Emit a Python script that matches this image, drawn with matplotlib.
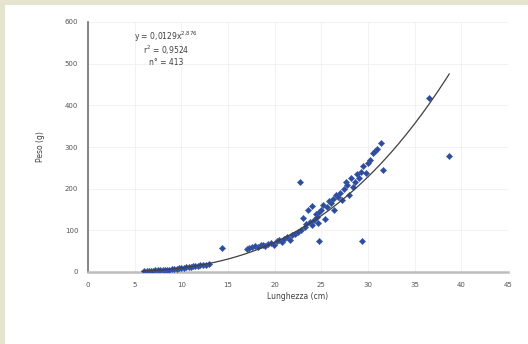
import numpy as np
from matplotlib import pyplot as plt
from matplotlib.patches import Rectangle

# lunghezza (cm) e peso (g)
len_small = [6.0, 6.3, 6.5, 6.8, 7.0, 7.2, 7.5, 7.7, 8.0, 8.2, 8.5, 8.7, 9.0, 9.2,
             9.5, 9.8, 10.0, 10.3, 10.5, 10.8, 11.0, 11.3, 11.5, 11.8, 12.0, 12.3, 12.6, 13.0]
peso_small = [2, 2, 3, 3, 3, 4, 4, 4, 5, 5, 6, 6, 7, 7,
              8, 9, 9, 10, 11, 12, 13, 14, 15, 15, 16, 17, 17, 19]

len_mid = [17.0, 17.3, 17.6, 17.9, 18.2, 18.5, 18.8, 19.0, 19.3, 19.6, 19.9, 20.2,
           20.5, 20.8, 21.0, 21.3, 21.6, 21.9, 22.2, 22.5]
peso_mid = [55, 57, 60, 62, 60, 64, 66, 63, 68, 70, 66, 74,
            77, 72, 80, 84, 78, 88, 92, 95]

len_big = [22.8, 23.0, 23.2, 23.4, 23.6, 23.8, 24.0, 24.0, 24.2, 24.4, 24.5, 24.6,
           24.8, 25.0, 25.2, 25.4, 25.6, 25.8, 26.0, 26.2, 26.4, 26.6, 26.8, 27.0,
           27.2, 27.4, 27.6, 27.8, 28.0, 28.2, 28.4, 28.6, 28.8, 29.0, 29.2, 29.5,
           29.8, 30.0, 30.2, 30.5, 30.8, 31.0, 31.4, 31.6]
peso_big = [100, 130, 108, 115, 150, 120, 112, 158, 125, 140, 132, 118,
            145, 150, 160, 128, 155, 170, 165, 175, 150, 185, 180, 190,
            172, 200, 215, 210, 185, 225, 205, 215, 235, 225, 240, 255,
            238, 262, 270, 285, 290, 295, 310, 245]

len_out = [14.4, 22.7, 24.7, 29.4, 36.5, 38.7]
peso_out = [58, 216, 75, 75, 418, 279]

# curva di potenza
coef_a = 0.0129
coef_b = 2.876
x_fit_min, x_fit_max = 5.8, 38.7

eq_lines = ['y = 0,0129x$^{2{,}876}$', 'r$^2$ = 0,9524', 'n° = 413']

plt.rcParams['font.family'] = ['DejaVu Sans']

fig = plt.figure(figsize=(5.28, 3.44), dpi=100)
fig.patch.set_facecolor('#e4e4cf')
fig.patches.append(Rectangle((5 / 528, 0), 1, 1 - 5 / 344, transform=fig.transFigure,
                             facecolor='white', edgecolor='none', zorder=-1))

ax = fig.add_axes([88 / 528, 72 / 344, 420 / 528, 250 / 344])
ax.set_facecolor('white')

xs = np.concatenate([len_small, len_mid, len_big, len_out])
ys = np.concatenate([peso_small, peso_mid, peso_big, peso_out])
ax.scatter(xs, ys, s=10, marker='D', color='#2f4c9a', edgecolors='#3b5db0',
           linewidths=0.4, zorder=3)

xf = np.linspace(x_fit_min, x_fit_max, 200)
ax.plot(xf, coef_a * xf ** coef_b, color='#404040', lw=0.9, zorder=4)

ax.set_xlim(0, 45)
ax.set_ylim(0, 600)
ax.set_xticks(np.arange(0, 46, 5))
ax.set_yticks(np.arange(0, 601, 100))
ax.grid(True, color='#f0f0f0', lw=0.6)
ax.set_axisbelow(True)
ax.tick_params(length=0, labelsize=5, labelcolor='#555555', pad=7)

for side in ['top', 'right']:
    ax.spines[side].set_visible(False)
ax.spines['left'].set_color('#707070')
ax.spines['left'].set_linewidth(1.2)
ax.spines['bottom'].set_color('#bdbdbd')
ax.spines['bottom'].set_linewidth(1.8)

ax.set_xlabel('Lunghezza (cm)', fontsize=5.5, color='#404040', labelpad=3)
ax.set_ylabel('Peso (g)', fontsize=5.5, color='#404040', labelpad=14)

for i, line in enumerate(eq_lines):
    ax.text(8.4, 564 - i * 31, line, fontsize=5.5, color='#404040', ha='center', va='center')

fig.savefig('out.png', dpi=100, facecolor=fig.get_facecolor())
